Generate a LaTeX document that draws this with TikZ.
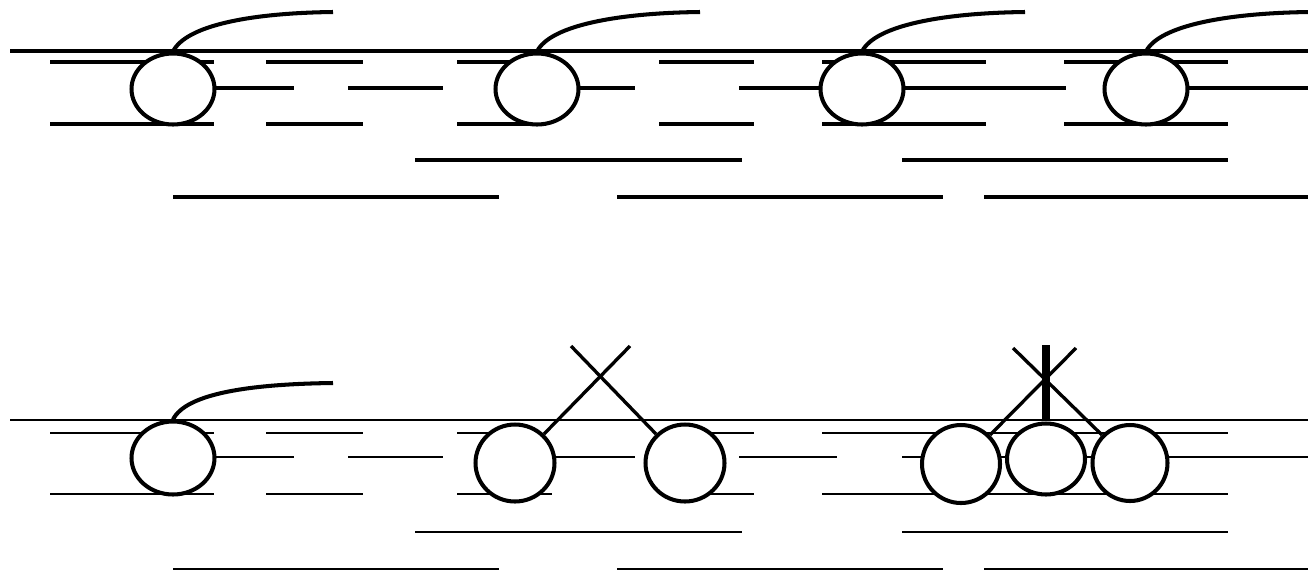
\documentclass[tikz,border=0pt]{standalone}
\usetikzlibrary{shapes.geometric}
\begin{document}
\begin{tikzpicture}[
    x=0.02cm, y=-0.02cm,
    rule/.style={line width=1.9pt},
    thinrule/.style={line width=1.15pt},
    ball/.style={
      ellipse,
      draw,
      fill=white,
      line width=2.3pt,
      inner sep=0pt,
      minimum width=1.66cm,
      minimum height=1.42cm
    },
    tail/.style={line width=2.3pt},
    bond/.style={line width=1.9pt}
  ]
    \useasboundingbox[fill=white] (0,0) rectangle (1308,576);
    \clip (0,0) rectangle (1308,576);

    % upper strip
    \draw[rule] (10,51) -- (1308,51);
    \foreach \a/\b in {50/214,266/363,457/540,659/754,822/986,1064/1228}
      \draw[rule] (\a,62) -- (\b,62) (\a,124) -- (\b,124);
    \foreach \a/\b in {172/294,348/443,537/635,739/1066,1146/1308}
      \draw[rule] (\a,88) -- (\b,88);
    \foreach \a/\b in {415/742,902/1228}
      \draw[rule] (\a,160) -- (\b,160);
    \foreach \a/\b in {173/499,617/943,984/1308}
      \draw[rule] (\a,197) -- (\b,197);

    \node[ball] (top1) at (173,89) {};
    \node[ball] (top2) at (537,89) {};
    \node[ball] (top3) at (862,89) {};
    \node[ball] (top4) at (1146,89) {};

    \foreach \n/\e in {1/333,2/700,3/1025,4/1310}
      \draw[tail] (top\n.north) .. controls +(13,-26) and +(-83,1) .. (\e,12);

    % lower strip
    \draw[thinrule] (10,420) -- (1308,420);
    \foreach \a/\b in {50/214,266/363,457/540,659/754,822/1228}
      \draw[thinrule] (\a,433) -- (\b,433);
    \foreach \a/\b in {172/294,348/443,515/635,739/837,902/1308}
      \draw[thinrule] (\a,457) -- (\b,457);
    \foreach \a/\b in {50/214,266/363,457/552,659/754,822/1228}
      \draw[thinrule] (\a,494) -- (\b,494);
    \foreach \a/\b in {415/742,902/1228}
      \draw[thinrule] (\a,532) -- (\b,532);
    \foreach \a/\b in {173/499,617/943,984/1308}
      \draw[thinrule] (\a,569) -- (\b,569);

    \node[ball, minimum height=1.46cm] (low1) at (173,458) {};
    \node[ball, minimum width=1.58cm, minimum height=1.54cm] (pairA) at (515,463) {};
    \node[ball, minimum width=1.58cm, minimum height=1.54cm] (pairB) at (685,463) {};
    \node[ball, minimum width=1.56cm, minimum height=1.56cm] (trioL) at (961,464) {};
    \node[ball, minimum width=1.56cm, minimum height=1.42cm] (trioM) at (1046,459) {};
    \node[ball, minimum width=1.50cm, minimum height=1.52cm] (trioR) at (1130,463) {};

    \coordinate (xA) at (630,346);
    \coordinate (xB) at (571,346);
    \coordinate (yL) at (1076,348);
    \coordinate (yR) at (1013,348);
    \coordinate (yM) at (1046,345);

    \draw[tail] (low1.north) .. controls +(13,-26) and +(-83,1) .. (333,383);
    \draw[bond] (pairA.45) -- (xA);
    \draw[bond] (pairB.135) -- (xB);
    \draw[bond] (trioL.45) -- (yL);
    \draw[bond] (trioR.135) -- (yR);
    \draw[line width=4.5pt] (trioM.north) -- (yM);
  \end{tikzpicture}
\end{document}
